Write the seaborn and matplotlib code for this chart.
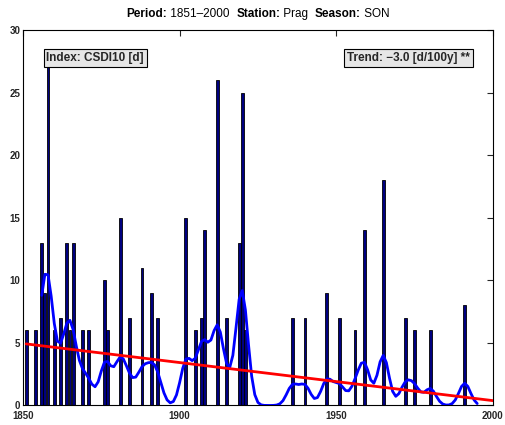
import numpy as np
import pandas as pd
import matplotlib
matplotlib.use("Agg")
import matplotlib.pyplot as plt
from matplotlib.offsetbox import TextArea, HPacker, AnchoredOffsetbox
import seaborn as sns

sns.set_style("white")
plt.rcParams['font.family'] = ['Liberation Sans', 'DejaVu Sans']

# CSDI10 (SON), Prag, years with non-zero index
years = [1851, 1854, 1856, 1857, 1858, 1860, 1862, 1864, 1865, 1866, 1869, 1871,
         1876, 1877, 1881, 1884, 1888, 1891, 1893, 1902, 1905, 1907, 1908, 1912,
         1915, 1919, 1920, 1921, 1936, 1940, 1947, 1951, 1956, 1959, 1965, 1972,
         1975, 1980, 1991]
values = [6, 6, 13, 9, 28, 6, 7, 13, 6, 13, 6, 6,
          10, 6, 15, 7, 11, 9, 7, 15, 6, 7, 14, 26,
          7, 13, 25, 6, 7, 7, 9, 7, 6, 14, 18, 7,
          6, 6, 8]
period = (1851, 2000)
xticks = [1850, 1900, 1950, 2000]
yticks = [0, 5, 10, 15, 20, 25, 30]

# full annual series (zeros for missing years)
all_years = np.arange(period[0], period[1] + 1)
series = pd.Series(0.0, index=all_years)
series.loc[years] = values

# gaussian low-pass, edges dropped
sigma = 1.8
half = 5
k = np.arange(-6, 7)
w = np.exp(-0.5 * (k / sigma) ** 2)
w /= w.sum()
smooth = np.convolve(series.values, w, mode="same")
mask = (all_years >= period[0] + half) & (all_years <= period[1] - half)
smooth_df = pd.DataFrame({"year": all_years[mask], "val": smooth[mask]})

# linear trend over the period
slope, icpt = np.polyfit(all_years, series.values, 1)
trend_x = np.array(period)
trend_df = pd.DataFrame({"year": trend_x, "val": slope * trend_x + icpt})

bars = pd.DataFrame({"year": years, "val": values})

fig, ax = plt.subplots(figsize=(5.05, 4.25), dpi=100)
fig.subplots_adjust(left=0.0455, right=0.976, bottom=0.046, top=0.929)

sns.barplot(data=bars, x="year", y="val", native_scale=True, width=0.9,
            color="#000080", edgecolor="black", linewidth=0.6, saturation=1,
            ax=ax, zorder=2)
sns.lineplot(data=smooth_df, x="year", y="val", color="blue", linewidth=2,
             ax=ax, zorder=3)
sns.lineplot(data=trend_df, x="year", y="val", color="red", linewidth=2,
             ax=ax, zorder=4)

ax.set_xlim(1850, 2000)
ax.set_ylim(0, 30)
ax.set_xticks(xticks)
ax.set_yticks(yticks)
ax.set_xlabel("")
ax.set_ylabel("")
for lab in ax.get_xticklabels() + ax.get_yticklabels():
    lab.set_fontweight("bold")
ax.tick_params(direction="in", length=4, width=0.8, labelsize=7,
               top=True, right=True)
ax.tick_params(axis="x", pad=4)
ax.tick_params(axis="y", pad=2)
for s in ax.spines.values():
    s.set_color("black")
    s.set_linewidth(0.8)

# title: bold labels, plain values
parts = [("Period:", "bold"), (" 1851\u20132000  ", "normal"),
         ("Station:", "bold"), (" Prag  ", "normal"),
         ("Season:", "bold"), (" SON", "normal")]
areas = [TextArea(t, textprops=dict(fontsize=8.5, fontweight=fw, color="black"))
         for t, fw in parts]
title_box = AnchoredOffsetbox(loc="lower center", child=HPacker(children=areas, pad=0, sep=0),
                              bbox_to_anchor=(0.5, 1.0), bbox_transform=ax.transAxes,
                              frameon=False, borderpad=0.75, pad=0)
ax.add_artist(title_box)

box = dict(boxstyle="square,pad=0.25", facecolor="#e6e6e6", edgecolor="black", linewidth=0.8)
ax.text(0.05, 0.927, "Index: CSDI10 [d]", transform=ax.transAxes, fontsize=8.5,
        fontweight="bold", ha="left", va="center", bbox=box, zorder=5)
trend_per_century = slope * 100
ax.text(0.952, 0.927, f"Trend: \u2212{abs(trend_per_century):.1f} [d/100y] **",
        transform=ax.transAxes, fontsize=8.5, fontweight="bold", ha="right",
        va="center", bbox=box, zorder=5)

plt.savefig("out.png", dpi=100)
plt.close()
